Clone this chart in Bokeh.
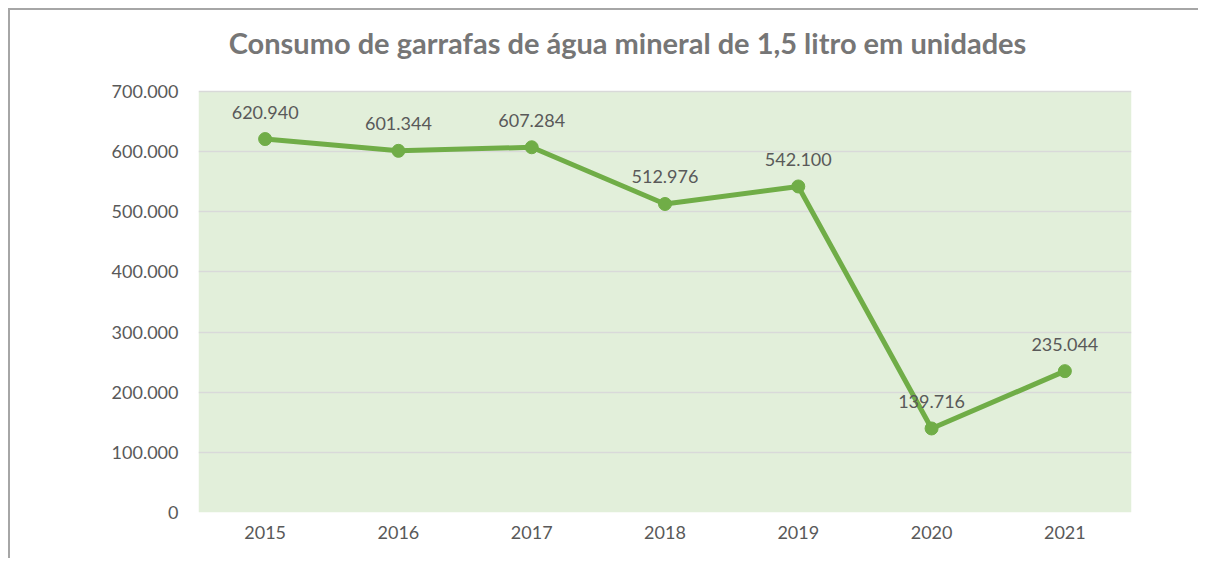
from bokeh.plotting import figure
from bokeh.models import (ColumnDataSource, LabelSet, Label, FixedTicker, Range1d,
                          FactorRange, BoxAnnotation)
from bokeh.core.properties import value
from bokeh.embed import file_html
from bokeh.resources import INLINE

years = ["2015", "2016", "2017", "2018", "2019", "2020", "2021"]
consumo = [620940, 601344, 607284, 512976, 542100, 139716, 235044]
y_ticks = [0, 100000, 200000, 300000, 400000, 500000, 600000, 700000]
y_tick_labels = ["0", "100.000", "200.000", "300.000", "400.000", "500.000", "600.000", "700.000"]
title_text = "Consumo de garrafas de água mineral de 1,5 litro em unidades"

GREEN = "#70ad47"
TXT = "#595959"
FONT = "Lato"

def fmt(v):
    return f"{v:,}".replace(",", ".")

src = ColumnDataSource(dict(x=years, y=consumo, lbl=[fmt(v) for v in consumo]))

# layout (pixels): plot area 421 px tall for 0..700000; the frame reaches 73 px higher
# so that the chart title can sit inside it
AREA_H = 421
EXTRA = 73
y_max = y_ticks[-1]
y_end = y_max + EXTRA * y_max / AREA_H

p = figure(width=1190, height=550, x_range=FactorRange(*years), y_range=Range1d(0, y_end),
           output_backend="svg", toolbar_location=None,
           min_border_left=188, min_border_right=69, min_border_top=8, min_border_bottom=48)
p.styles = {"border-top": "2px solid #a6a6a6", "border-left": "2px solid #a6a6a6",
            "margin-left": "8px", "margin-top": "8px"}

p.background_fill_color = "white"
p.border_fill_color = "white"
p.outline_line_color = None

plot_area = BoxAnnotation(bottom=0, top=y_max, fill_color="#e2efda", fill_alpha=1.0,
                          line_color=None, level="image")
p.add_layout(plot_area)

p.xgrid.grid_line_color = None
p.ygrid.ticker = FixedTicker(ticks=y_ticks)
p.ygrid.grid_line_color = "#d9d9d9"
p.ygrid.grid_line_width = 1.5
p.ygrid.level = "underlay"

p.yaxis.ticker = FixedTicker(ticks=y_ticks)
p.yaxis.major_label_overrides = {t: l for t, l in zip(y_ticks, y_tick_labels)}
for ax in (p.xaxis, p.yaxis):
    ax.axis_line_color = None
    ax.major_tick_line_color = None
    ax.minor_tick_line_color = None
    ax.major_tick_out = 0
    ax.major_tick_in = 0
    ax.major_label_text_font = FONT
    ax.major_label_text_font_size = "18px"
    ax.major_label_text_color = TXT
p.yaxis.major_label_standoff = 20
p.xaxis.major_label_standoff = 13

p.line("x", "y", source=src, line_color=GREEN, line_width=5)
p.scatter("x", "y", source=src, size=13, fill_color=GREEN, line_color=GREEN)

labels = LabelSet(x="x", y="y", text="lbl", source=src, y_offset=27,
                  text_align="center", text_baseline="middle",
                  text_font=value(FONT), text_font_size="18px", text_color=TXT)
p.add_layout(labels)

# screen units: relative to the frame, origin at its bottom-left
title = Label(x=429, y=470, x_units="screen", y_units="screen", text=title_text,
              text_align="center", text_baseline="middle",
              text_font=FONT, text_font_size="29px", text_font_style="bold",
              text_color="#767676")
p.add_layout(title)

open("out.html", "w").write(file_html(p, INLINE))
